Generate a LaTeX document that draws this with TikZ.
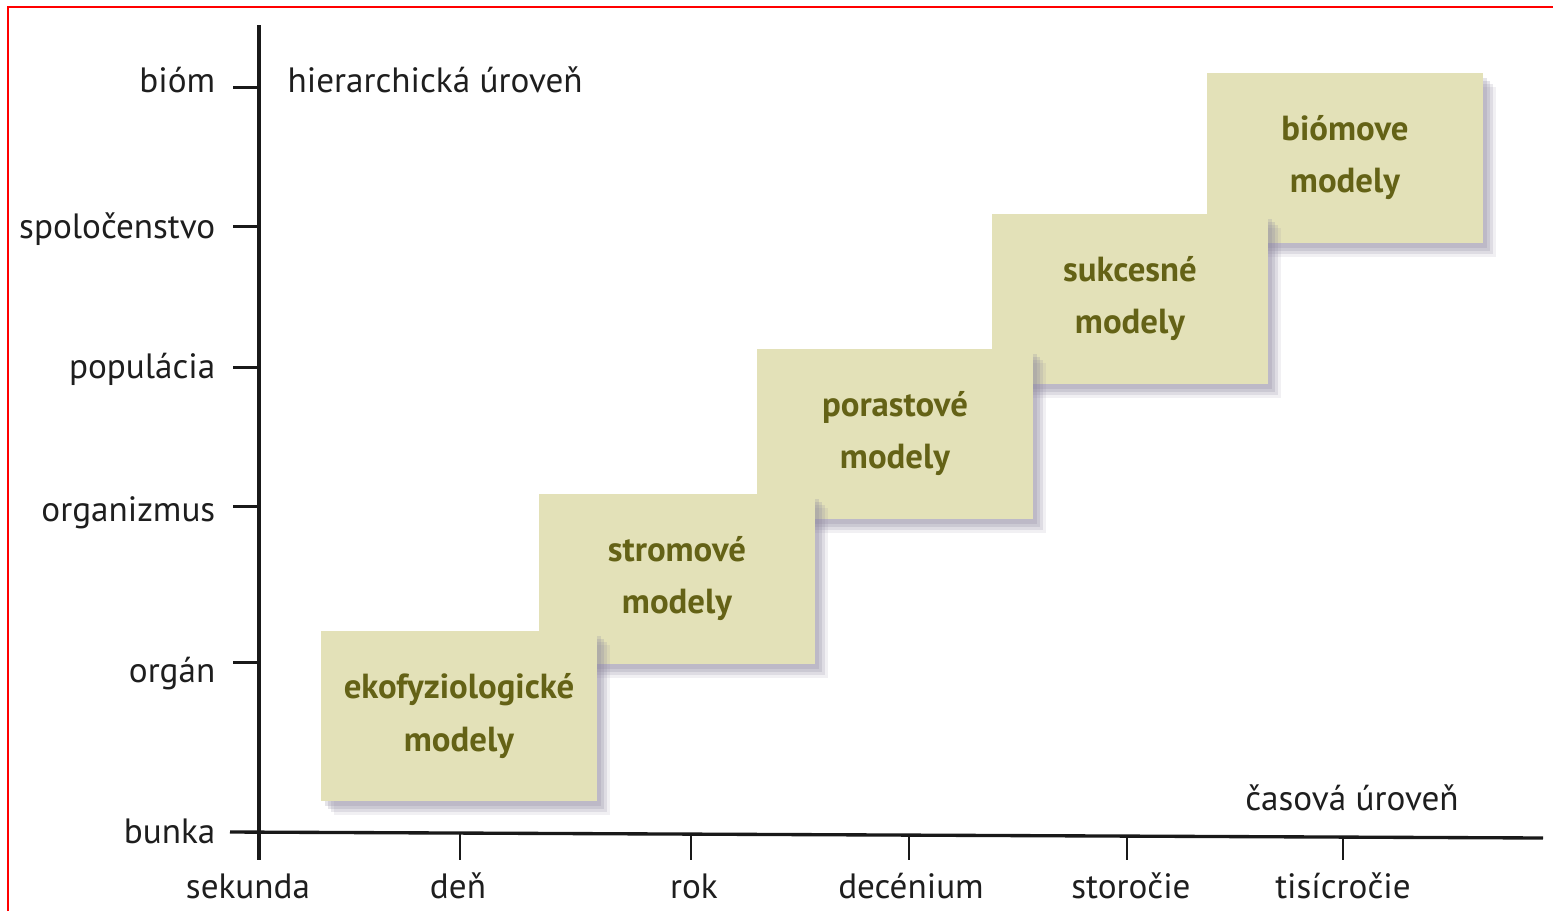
\documentclass[tikz,border=0pt]{standalone}
\usepackage{fontspec}
\setmainfont{PT Sans}
\usetikzlibrary{shadows}
\definecolor{boxfill}{RGB}{227,225,184}
\definecolor{boxtext}{RGB}{100,98,22}
\definecolor{shadowc}{RGB}{140,134,158}
\definecolor{axisc}{RGB}{25,25,25}
\definecolor{labelc}{RGB}{30,30,30}
\begin{document}
\begin{tikzpicture}[x=0.01cm,y=-0.01cm,
  axisline/.style={draw=axisc,line width=0.95pt},
  tickline/.style={draw=axisc,line width=0.85pt},
  lab/.style={text=labelc,font=\fontsize{10}{12}\selectfont,inner sep=0pt},
  modelbox/.style={fill=boxfill,minimum width=2.75cm,minimum height=1.69cm,
    align=center,text=boxtext,inner sep=0pt,
    font=\bfseries\fontsize{9.9}{14.8}\selectfont,
    general shadow={fill=shadowc,opacity=0.22,shadow xshift=0.04cm,shadow yshift=-0.05cm},
    general shadow={fill=shadowc,opacity=0.22,shadow xshift=0.07cm,shadow yshift=-0.08cm},
    general shadow={fill=shadowc,opacity=0.18,shadow xshift=0.1cm,shadow yshift=-0.11cm},
    general shadow={fill=shadowc,opacity=0.12,shadow xshift=0.13cm,shadow yshift=-0.14cm}}]
\useasboundingbox (0,0) rectangle (1553,911);
\fill[white] (0,0) rectangle (1553,911);

% page frame
\draw[red,line width=0.6pt] (8,911) -- (8,7) -- (1553,7);

% axes
\coordinate (ytop) at (259,25);
\coordinate (ybot) at (259,860);
\coordinate (xleft) at (230,832);
\coordinate (xright) at (1543,838);
\draw[axisline] (ytop) -- (ybot);
\draw[axisline] (xleft) -- (xright);

% ticks on the hierarchy axis
\foreach \yy/\nm in {87/t1,226/t2,367/t3,506/t4,662/t5}{
  \coordinate (\nm a) at (233,\yy);
  \coordinate (\nm b) at (259,\yy);
  \draw[tickline] (\nm a) -- (\nm b);
}
% ticks on the time axis
\foreach \xx/\yy/\nm in {460/833/u1,691/834/u2,909/835/u3,1127/836/u4,1343/837/u5}{
  \coordinate (\nm a) at (\xx,\yy);
  \coordinate (\nm b) at (\xx,860);
  \draw[tickline] (\nm a) -- (\nm b);
}

% hierarchy labels
\node[lab,anchor=mid east] (biom) at (216,84) {bióm};
\node[lab,anchor=mid east] (spol) at (216,230) {spoločenstvo};
\node[lab,anchor=mid east] (popu) at (216,370) {populácia};
\node[lab,anchor=mid east] (orgz) at (216,513) {organizmus};
\node[lab,anchor=mid east] (orgn) at (216,674) {orgán};
\node[lab,anchor=mid east] (bunk) at (216,835) {bunka};
\node[lab,anchor=mid west] (hier) at (287,84) {hierarchická úroveň};

% time labels
\node[lab,anchor=mid] (seku) at (248,890) {sekunda};
\node[lab,anchor=mid] (den) at (458,890) {deň};
\node[lab,anchor=mid] (rok) at (694,890) {rok};
\node[lab,anchor=mid] (dece) at (911,890) {decénium};
\node[lab,anchor=mid] (stor) at (1131,890) {storočie};
\node[lab,anchor=mid] (tisi) at (1343,890) {tisícročie};
\node[lab,anchor=mid] (cas) at (1352,802) {časová úroveň};

% model boxes, drawn from the top right down so that lower ones overlap
\node[modelbox] (m5) at (1345,158) {biómove\\modely};
\node[modelbox] (m4) at (1130,299) {sukcesné\\modely};
\node[modelbox] (m3) at (895,434) {porastové\\modely};
\node[modelbox] (m2) at (677,579) {stromové\\modely};
\node[modelbox] (m1) at (459,716) {ekofyziologické\\modely};
\end{tikzpicture}
\end{document}
